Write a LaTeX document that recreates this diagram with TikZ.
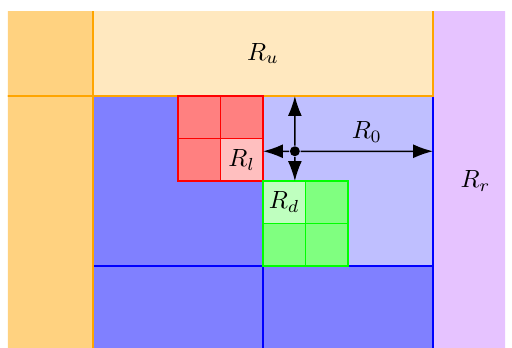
\documentclass[tikz,border=0pt]{standalone}
\usetikzlibrary{arrows.meta}
\definecolor{regorange}{HTML}{FFA500}
\definecolor{regviolet}{HTML}{E6C3FF}
\tikzset{
  cell/.style={draw=#1},
  reach/.style={-{Latex[length=8pt,width=5.6pt]}},
  centre/.style={circle,fill=black,inner sep=0pt,minimum size=4pt}
}
\begin{document}
\begin{tikzpicture}[scale=0.6,semithick]
  \useasboundingbox (-2.188,-5.906) rectangle (9.859,2.259);
  \begin{scope}
    \clip (-2,-5.906) rectangle (9.7,2);
    \fill[regviolet] (8,-7) rectangle (11,3);
    \foreach \x/\y/\c in {0/0/blue!50, 4/0/blue!25, 0/-4/blue!50, 4/-4/blue!50}
      \filldraw[cell=blue,fill=\c] (\x,\y) rectangle ++(4,-4);
    \filldraw[cell=regorange,fill=regorange!50] (-3,3) rectangle (0,0);
    \filldraw[cell=regorange,fill=regorange!50] (-3,0) rectangle (0,-7);
    \filldraw[cell=regorange,fill=regorange!25] (0,3) rectangle (8,0);
  \end{scope}
  \foreach \x/\y/\c in {2/0/red!50, 3/0/red!50, 2/-1/red!50, 3/-1/red!25}
    \filldraw[cell=red,fill=\c] (\x,\y) rectangle ++(1,-1);
  \foreach \x/\y/\c in {4/-2/green!25, 5/-2/green!50, 4/-3/green!50, 5/-3/green!50}
    \filldraw[cell=green,fill=\c] (\x,\y) rectangle ++(1,-1);
  \node (ru) at (4,1) {$R_u$};
  \node (rr) at (9,-2) {$R_r$};
  \node (rl) at (3.5,-1.5) {$R_l$};
  \node (rd) at (4.5,-2.5) {$R_d$};
  \node[centre] (o) at (4.75,-1.3) {};
  \coordinate (pu) at (4.75,0);
  \coordinate (pd) at (4.75,-2);
  \coordinate (pl) at (4,-1.3);
  \coordinate (pr) at (8,-1.3);
  \draw[reach] (o) -- (pu);
  \draw[reach] (o) -- (pd);
  \draw[reach] (o) -- (pl);
  \draw[reach] (o) -- node[above] (r0) {$R_0$} (pr);
\end{tikzpicture}
\end{document}
